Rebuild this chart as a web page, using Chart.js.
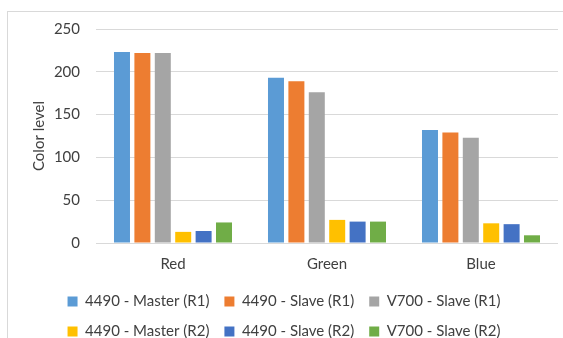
<!DOCTYPE html>
<html>
<head>
<meta charset="utf-8">
<script src="https://cdn.jsdelivr.net/npm/chart.js@4/dist/chart.umd.min.js"></script>
<style>
  html, body { margin: 0; padding: 0; background: #fff; overflow: hidden; }
  body { width: 563px; height: 338px; position: relative; }
  .edge { position: absolute; background: #d9d9d9; }
  #edgeTop { left: 7px; top: 11px; width: 556px; height: 1px; }
  #edgeLeft { left: 7px; top: 11px; width: 1px; height: 327px; }
  #wrap { position: absolute; left: 0; top: 0; width: 563px; height: 349px; }
</style>
</head>
<body>
<div class="edge" id="edgeTop"></div>
<div class="edge" id="edgeLeft"></div>
<div id="wrap"><canvas id="chart"></canvas></div>
<script>
// Colour channels measured on each device
const categories = ['Red', 'Green', 'Blue'];

const master4490R1 = [223, 193, 132];
const slave4490R1  = [222, 189, 129];
const slaveV700R1  = [222, 176, 123];
const master4490R2 = [13, 27, 23];
const slave4490R2  = [14, 25, 22];
const slaveV700R2  = [24, 25, 9];

const seriesNames = [
  '4490 - Master (R1)', '4490 - Slave (R1)', 'V700 - Slave (R1)',
  '4490 - Master (R2)', '4490 - Slave (R2)', 'V700 - Slave (R2)'
];
const seriesValues = [master4490R1, slave4490R1, slaveV700R1, master4490R2, slave4490R2, slaveV700R2];
const seriesColors = ['#5B9BD5', '#ED7D31', '#A5A5A5', '#FFC000', '#4472C4', '#70AD47'];

const yTicks = [0, 50, 100, 150, 200, 250];

const textColor = '#404040';
const gridColor = '#d9d9d9';
const baseFont = { family: 'Lato, "Open Sans", sans-serif', size: 15 };

new Chart(document.getElementById('chart'), {
  type: 'bar',
  data: {
    labels: categories,
    datasets: seriesNames.map((name, i) => ({
      label: name,
      data: seriesValues[i],
      backgroundColor: seriesColors[i],
      borderWidth: 0,
      categoryPercentage: 0.795,
      barPercentage: 0.784
    }))
  },
  options: {
    responsive: true,
    maintainAspectRatio: false,
    animation: false,
    layout: { padding: { left: 10, right: 5, top: 29, bottom: 0 } },
    plugins: {
      tooltip: { enabled: false },
      legend: {
        position: 'bottom',
        labels: {
          color: textColor,
          font: baseFont,
          boxWidth: 10,
          boxHeight: 10,
          padding: 15
        }
      }
    },
    scales: {
      x: {
        grid: { display: false, drawTicks: false },
        border: { display: false },
        ticks: { color: textColor, font: baseFont, padding: 12 },
        afterFit: (scale) => { scale.height = 36; }
      },
      y: {
        min: yTicks[0],
        max: yTicks[yTicks.length - 1],
        afterBuildTicks: (scale) => { scale.ticks = yTicks.map(v => ({ value: v })); },
        grid: { color: gridColor, drawTicks: false, lineWidth: 1 },
        border: { display: false },
        ticks: { color: textColor, font: baseFont, padding: 16 },
        title: {
          display: true,
          text: 'Color level',
          color: textColor,
          font: baseFont,
          padding: { top: 20, bottom: 0 }
        },
        afterFit: (scale) => { scale.width = 86; }
      }
    }
  }
});
</script>
</body>
</html>
